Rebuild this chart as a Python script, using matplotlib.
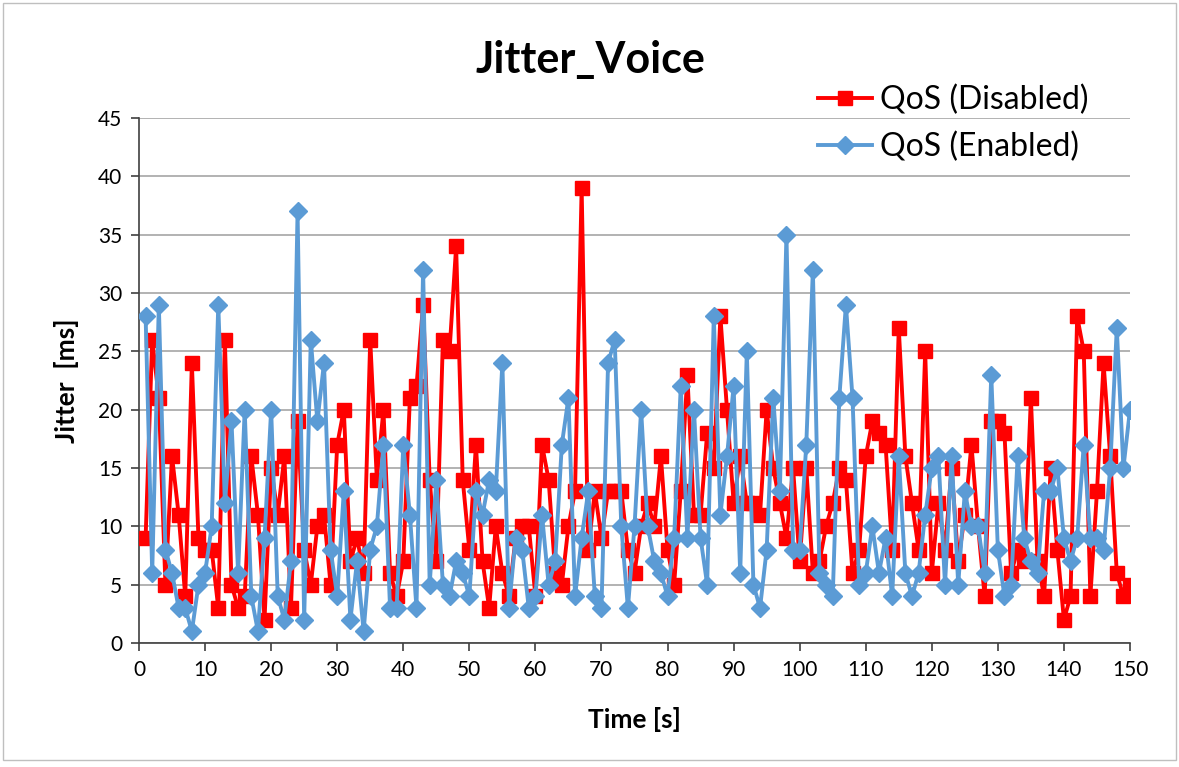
import numpy as np
import matplotlib
matplotlib.use("Agg")
import matplotlib.pyplot as plt
from matplotlib.patches import Rectangle

plt.rcParams["font.family"] = ["Lato", "DejaVu Sans"]

time_s = list(range(1, 151))

jitter_disabled = [
    9, 26, 21, 5, 16, 11, 4, 24, 9, 8, 8, 3, 26, 5, 3, 4, 16, 11, 2, 15,
    11, 16, 3, 19, 8, 5, 10, 11, 5, 17, 20, 7, 9, 6, 26, 14, 20, 6, 4, 7,
    21, 22, 29, 14, 7, 26, 25, 34, 14, 8, 17, 7, 3, 10, 6, 4, 9, 10, 10, 4,
    17, 14, 6, 5, 10, 13, 39, 8, 13, 9, 13, 13, 13, 8, 6, 10, 12, 10, 16, 8,
    5, 13, 23, 11, 11, 18, 15, 28, 20, 12, 16, 12, 12, 11, 20, 15, 12, 9, 15, 7,
    15, 6, 7, 10, 12, 15, 14, 6, 8, 16, 19, 18, 17, 8, 27, 16, 12, 8, 25, 6,
    12, 8, 15, 7, 11, 17, 10, 4, 19, 19, 18, 6, 8, 7, 21, 7, 4, 15, 8, 2,
    4, 28, 25, 4, 13, 24, 16, 6, 4, 5,
]

jitter_enabled = [
    28, 6, 29, 8, 6, 3, 3, 1, 5, 6, 10, 29, 12, 19, 6, 20, 4, 1, 9, 20,
    4, 2, 7, 37, 2, 26, 19, 24, 8, 4, 13, 2, 7, 1, 8, 10, 17, 3, 3, 17,
    11, 3, 32, 5, 14, 5, 4, 7, 6, 4, 13, 11, 14, 13, 24, 3, 9, 8, 3, 4,
    11, 5, 7, 17, 21, 4, 9, 13, 4, 3, 24, 26, 10, 3, 10, 20, 10, 7, 6, 4,
    9, 22, 9, 20, 9, 5, 28, 11, 16, 22, 6, 25, 5, 3, 8, 21, 13, 35, 8, 8,
    17, 32, 6, 5, 4, 21, 29, 21, 5, 6, 10, 6, 9, 4, 16, 6, 4, 6, 11, 15,
    16, 5, 16, 5, 13, 10, 10, 6, 23, 8, 4, 5, 16, 9, 7, 6, 13, 13, 15, 9,
    7, 9, 17, 9, 9, 8, 15, 27, 15, 20,
]

x_ticks = list(range(0, 151, 10))
y_ticks = list(range(0, 46, 5))

fig = plt.figure(figsize=(11.79, 7.67), dpi=100)
ax = fig.add_axes([139 / 1179, 1 - 643 / 767, (1130 - 139) / 1179, (643 - 118) / 767])

l1, = ax.plot(time_s, jitter_disabled, color="#FF0000", lw=2.8, marker="s",
              ms=10, label="QoS (Disabled)", zorder=3)
l2, = ax.plot(time_s, jitter_enabled, color="#5B9BD5", lw=2.8, marker="D",
              ms=9, label="QoS (Enabled)", zorder=4)

ax.set_xlim(0, 150)
ax.set_ylim(0, 45)
ax.set_xticks(x_ticks)
ax.set_yticks(y_ticks)
ax.tick_params(axis="both", labelsize=15, direction="out", length=6,
               color="#404040", width=1.2, pad=6)
ax.yaxis.grid(True, color="#a6a6a6", lw=1.2)
ax.set_axisbelow(True)
for side in ("top", "right"):
    ax.spines[side].set_visible(False)
for side in ("left", "bottom"):
    ax.spines[side].set_color("#404040")
    ax.spines[side].set_linewidth(1.2)

ax.set_xlabel("Time [s]", fontsize=19, fontweight="bold", labelpad=20)
ax.set_ylabel("Jitter  [ms]", fontsize=19, fontweight="bold", labelpad=14)
fig.text(590 / 1179, 1 - 60 / 767, "Jitter_Voice", fontsize=31,
         fontweight="bold", ha="center", va="center")

fig.legend(handles=[l1, l2], loc="upper left",
           bbox_to_anchor=(818 / 1179, 1 - 85 / 767), frameon=False,
           borderpad=0, borderaxespad=0,
           fontsize=23, handlelength=1.7, labelspacing=0.5, handletextpad=0.25)

fig.patches.append(Rectangle((3 / 1179, 7 / 767), 1173 / 1179, 757 / 767,
                             transform=fig.transFigure, fill=False,
                             edgecolor="#bfbfbf", lw=1))

fig.savefig("out.png", dpi=100)
